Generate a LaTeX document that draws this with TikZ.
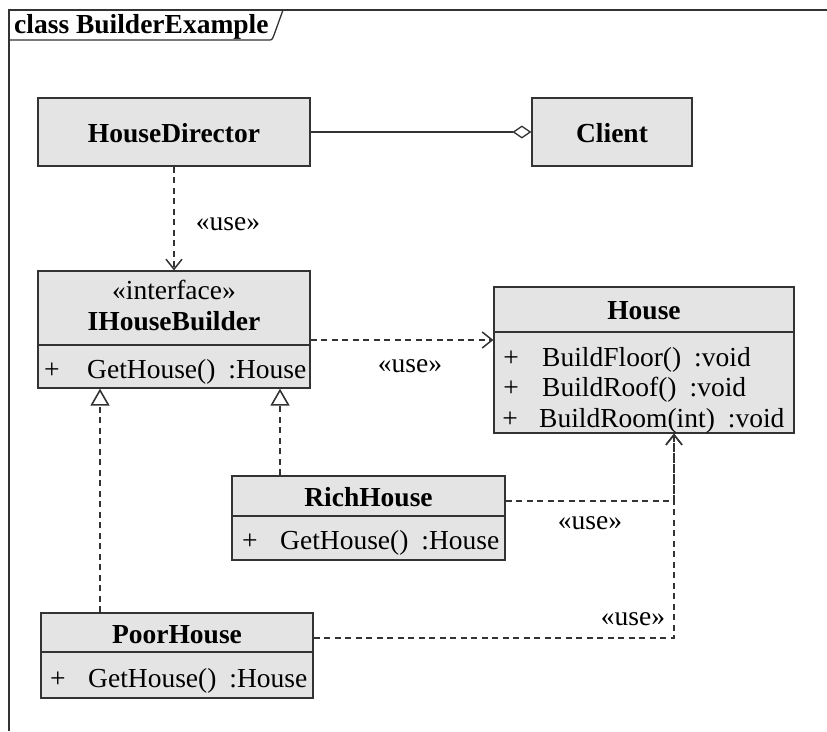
\documentclass[tikz,border=0pt]{standalone}
\usepackage{fontspec}
\setmainfont{Liberation Serif}
\usetikzlibrary{arrows.meta}
\definecolor{lc}{HTML}{333333}
\definecolor{boxfill}{HTML}{E4E4E4}
\begin{document}
\begin{tikzpicture}[x=1pt,y=-1pt,
  txt/.style={font=\fontsize{27.5}{30}\selectfont, text=black, inner sep=0pt, anchor=base},
  bold/.style={txt, font=\fontsize{27.5}{30}\selectfont\bfseries},
  rowtxt/.style={txt, anchor=base west},
  box/.style={draw=lc, fill=boxfill, line width=1.2pt, inner sep=0pt, rectangle},
  divider/.style={draw=lc, line width=1.2pt},
  frameline/.style={draw=lc, line width=1.3pt},
  conn/.style={draw=lc, line width=1.2pt},
  dep/.style={conn, dash pattern=on 6pt off 4.5pt, -{Straight Barb[length=10pt,width=16pt,line width=1.5pt]}},
  real/.style={conn, dash pattern=on 6pt off 4.5pt, -{Triangle[open,length=17pt,width=19pt,line width=1.6pt,fill=white]}},
  assoc/.style={conn, -{Diamond[open,length=19pt,width=13pt,line width=1.3pt,fill=white]}}
]
\useasboundingbox (0,0) rectangle (827,731);
\fill[white] (0,0) rectangle (827,731);

% frame
\draw[frameline] (9,731) -- (9,10) -- (827,10);
\draw[frameline] (9,40) -- (268,40) .. controls (272,40) .. (274,35) -- (283,10);
\node[bold, anchor=base west] (title) at (14,33) {class BuilderExample};

% boxes
\node[box, minimum width=272pt, minimum height=68pt] (hd) at (174,132) {};
\node[bold] (hdname) at (174,142) {HouseDirector};

\node[box, minimum width=160pt, minimum height=68pt] (cl) at (612,132) {};
\node[bold] (clname) at (612,142) {Client};

\node[box, minimum width=272pt, minimum height=117pt] (ihb) at (174,329.5) {};
\draw[divider] (ihb.west |- 0,345) -- (ihb.east |- 0,345);
\node[txt] (ihbst) at (174,299) {«interface»};
\node[bold] (ihbname) at (174,330) {IHouseBuilder};
\node[txt] (ihbplus) at (52,378) {+};
\node[rowtxt] (ihbop) at (87,378) {GetHouse()\hspace{13pt}:House};

\node[box, minimum width=300pt, minimum height=146pt] (house) at (644,360) {};
\draw[divider] (house.west |- 0,332) -- (house.east |- 0,332);
\node[bold] (housename) at (644,319) {House};
\node[txt] (hp1) at (511,366) {+};
\node[rowtxt] (ho1) at (542,366) {BuildFloor()\hspace{13pt}:void};
\node[txt] (hp2) at (511,396) {+};
\node[rowtxt] (ho2) at (542,396) {BuildRoof()\hspace{13pt}:void};
\node[txt] (hp3) at (510,427) {+};
\node[rowtxt] (ho3) at (539,427) {BuildRoom(int)\hspace{13pt}:void};

\node[box, minimum width=273pt, minimum height=84pt] (rich) at (368.5,518) {};
\draw[divider] (rich.west |- 0,516) -- (rich.east |- 0,516);
\node[bold] (richname) at (368.5,506) {RichHouse};
\node[txt] (richplus) at (250,549) {+};
\node[rowtxt] (richop) at (280,549) {GetHouse()\hspace{13pt}:House};

\node[box, minimum width=272pt, minimum height=85pt] (poor) at (177,655.5) {};
\draw[divider] (poor.west |- 0,652) -- (poor.east |- 0,652);
\node[bold] (poorname) at (177,643) {PoorHouse};
\node[txt] (poorplus) at (58,687) {+};
\node[rowtxt] (poorop) at (88,687) {GetHouse()\hspace{13pt}:House};

% connectors
\draw[assoc] (hd.east) -- (cl.west);
\draw[dep] (hd.south) -- (ihb.north);
\node[txt] (use1) at (228,230) {«use»};
\draw[dep] ([yshift=-10.5pt]ihb.east) -- ([yshift=-10.5pt]ihb.east -| house.west);
\node[txt] (use2) at (410,372) {«use»};
\draw[real] ([xshift=-88.5pt]rich.north) -- ([xshift=-88.5pt]rich.north |- ihb.south);
\draw[real] ([xshift=-77pt]poor.north) -- ([xshift=-77pt]poor.north |- ihb.south);
\draw[dep] ([yshift=17pt]rich.east) -| ([xshift=30pt]house.south);
\node[txt] (use3) at (590,529) {«use»};
\draw[dep] ([yshift=17.5pt]poor.east) -| ([xshift=30pt]house.south);
\node[txt] (use4) at (633,625) {«use»};
\end{tikzpicture}
\end{document}
